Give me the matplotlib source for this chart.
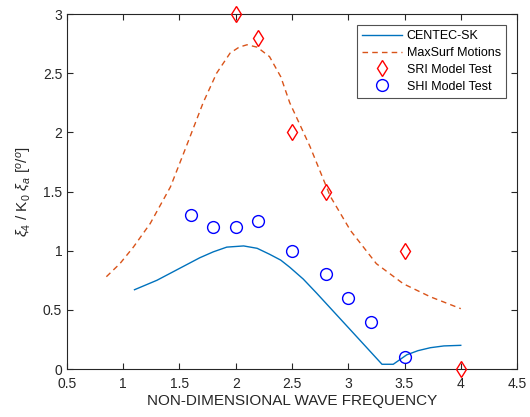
import numpy as np
import matplotlib.pyplot as plt

plt.rcParams['font.family'] = ['Liberation Sans', 'DejaVu Sans']
plt.rcParams['mathtext.fontset'] = 'custom'
plt.rcParams['mathtext.rm'] = 'Liberation Sans'
plt.rcParams['mathtext.it'] = 'Liberation Sans:italic'

# CENTEC-SK (solid line)
centec_x = [1.10, 1.30, 1.50, 1.68, 1.80, 1.92, 2.07, 2.19, 2.30, 2.40, 2.48, 2.60, 2.72, 3.02, 3.30, 3.40, 3.52, 3.62, 3.73, 3.85, 4.00]
centec_y = [0.67, 0.75, 0.85, 0.94, 0.99, 1.03, 1.04, 1.02, 0.97, 0.92, 0.86, 0.76, 0.64, 0.33, 0.04, 0.04, 0.12, 0.155, 0.18, 0.195, 0.20]

# MaxSurf Motions (dashed line)
maxsurf_x = [0.85, 0.97, 1.09, 1.24, 1.42, 1.56, 1.71, 1.83, 1.95, 2.03, 2.10, 2.19, 2.30, 2.40, 2.48, 2.66, 2.84, 3.02, 3.25, 3.49, 3.73, 4.00]
maxsurf_y = [0.78, 0.89, 1.03, 1.23, 1.54, 1.88, 2.25, 2.50, 2.67, 2.72, 2.74, 2.72, 2.64, 2.47, 2.25, 1.88, 1.46, 1.17, 0.89, 0.72, 0.61, 0.51]

# model tests
sri_x = [2.0, 2.2, 2.5, 2.8, 3.5, 4.0]
sri_y = [3.0, 2.8, 2.0, 1.5, 1.0, 0.0]
shi_x = [1.6, 1.8, 2.0, 2.2, 2.5, 2.8, 3.0, 3.2, 3.5]
shi_y = [1.3, 1.2, 1.2, 1.25, 1.0, 0.8, 0.6, 0.4, 0.1]

fig = plt.figure(figsize=(5.30, 4.17), dpi=100)
ax = fig.add_axes([0.1264, 0.1151, 0.8491, 0.8513])

ax.plot(centec_x, centec_y, '-', color='#0072BD', lw=1.0, label='CENTEC-SK')
ax.plot(maxsurf_x, maxsurf_y, '--', color='#D95319', lw=1.0, dashes=(4, 3),
        label='MaxSurf Motions')
ax.plot(sri_x, sri_y, 'd', color='r', mfc='none', ms=8.5, mew=1.0, ls='none',
        clip_on=False, label='SRI Model Test', zorder=5)
ax.plot(shi_x, shi_y, 'o', color='b', mfc='none', ms=8.5, mew=1.0, ls='none',
        clip_on=False, label='SHI Model Test', zorder=5)

ax.set_xlim(0.5, 4.5)
ax.set_ylim(0, 3)
ax.set_xticks(np.arange(0.5, 4.51, 0.5))
ax.set_xticklabels(['0.5', '1', '1.5', '2', '2.5', '3', '3.5', '4', '4.5'])
ax.set_yticks(np.arange(0, 3.01, 0.5))
ax.set_yticklabels(['0', '0.5', '1', '1.5', '2', '2.5', '3'])

gray = '#262626'
for s in ax.spines.values():
    s.set_color(gray)
    s.set_linewidth(0.8)
ax.tick_params(direction='in', top=True, right=True, length=4, width=0.8,
               colors=gray, labelsize=10, labelcolor=gray)
ax.tick_params(axis='x', pad=6)

ax.set_xlabel('NON-DIMENSIONAL WAVE FREQUENCY', fontsize=11, color=gray, labelpad=2)
ax.set_ylabel(r'$\xi_4$ / K$_0$ $\xi_a$ [$^o$/$^o$]', fontsize=11, color=gray, labelpad=6)

leg = ax.legend(loc='upper right', fontsize=9, frameon=True, fancybox=False,
                borderaxespad=0.9, handlelength=3.2, labelspacing=0.38,
                borderpad=0.4, handletextpad=0.4)
leg.get_frame().set_edgecolor(gray)
leg.get_frame().set_linewidth(0.8)

fig.savefig('out.png', dpi=100)
